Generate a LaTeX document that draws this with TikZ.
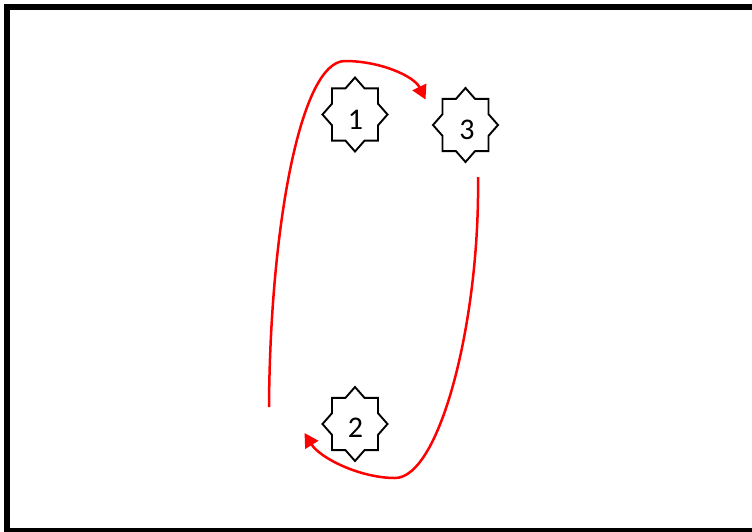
\documentclass[tikz,border=0pt]{standalone}
\usepackage{fontspec}
\setmainfont{Carlito}
\usetikzlibrary{arrows.meta,calc}
\tikzset{
  frameline/.style={draw=black,line width=6pt},
  starline/.style={draw=black,line width=1.9pt,line join=miter,fill=white},
  lbl/.style={inner sep=0pt,font=\fontsize{30}{32}\selectfont},
  redarrow/.style={draw=red,line width=2.5pt,-{Triangle[length=14pt,width=15pt]}}
}
\newcommand{\octstar}[1]{%
  \draw[starline] ([shift={(#1)}]0:32.5 and 37)
    -- ([shift={(#1)}]22.5:24.9 and 28.3) -- ([shift={(#1)}]45:32.5 and 37)
    -- ([shift={(#1)}]67.5:24.9 and 28.3) -- ([shift={(#1)}]90:32.5 and 37)
    -- ([shift={(#1)}]112.5:24.9 and 28.3) -- ([shift={(#1)}]135:32.5 and 37)
    -- ([shift={(#1)}]157.5:24.9 and 28.3) -- ([shift={(#1)}]180:32.5 and 37)
    -- ([shift={(#1)}]202.5:24.9 and 28.3) -- ([shift={(#1)}]225:32.5 and 37)
    -- ([shift={(#1)}]247.5:24.9 and 28.3) -- ([shift={(#1)}]270:32.5 and 37)
    -- ([shift={(#1)}]292.5:24.9 and 28.3) -- ([shift={(#1)}]315:32.5 and 37)
    -- ([shift={(#1)}]337.5:24.9 and 28.3) -- cycle;}
\begin{document}
\begin{tikzpicture}[x=1pt,y=-1pt]
\useasboundingbox (0,0) rectangle (752,531);
\fill[white] (0,0) rectangle (752,531);
\draw[frameline] (7,7) rectangle (770,531);
% star centres
\coordinate (c1) at (355,114.5);
\coordinate (c2) at (355,424);
\coordinate (c3) at (465.5,125);
\octstar{c1}
\octstar{c2}
\octstar{c3}
\node[lbl] (n1) at (355.5,120) {1};
\node[lbl] (n2) at (355.5,427.5) {2};
\node[lbl] (n3) at (467,130) {3};
% connector end points
\coordinate (a0) at (269,407);
\coordinate (a1) at (345,61);
\coordinate (a2) at (425.5,99.5);
\coordinate (b0) at (478,177);
\coordinate (b1) at (395,478);
\coordinate (b2) at (304.5,433);
\draw[redarrow] (a0) .. controls (270,230) and (300,61) .. (a1)
  .. controls (380,61) and (414,76) .. (a2);
\draw[redarrow] (b0) .. controls (480,320) and (440,478) .. (b1)
  .. controls (360,478) and (320,458) .. (b2);
\end{tikzpicture}
\end{document}
